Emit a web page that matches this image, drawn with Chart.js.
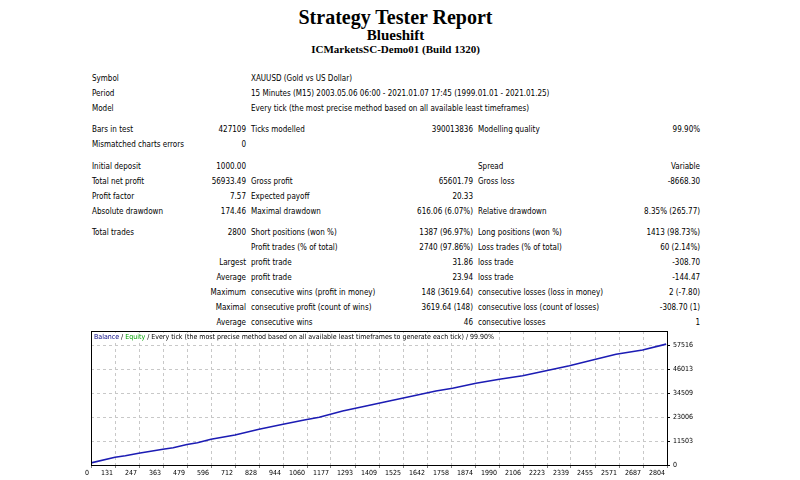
<!DOCTYPE html>
<html>
<head>
<meta charset="utf-8">
<title>Strategy Tester Report</title>
<script src="https://cdn.jsdelivr.net/npm/chart.js@4.4.0/dist/chart.umd.min.js"></script>
<style>
body { margin:0; background:#fff; width:800px; height:480px; position:relative; overflow:hidden; font-family:"DejaVu Sans Condensed","DejaVu Sans",sans-serif; font-stretch:condensed; color:#000; }
.t { position:absolute; left:0; width:791px; text-align:center; font-family:"Liberation Serif",serif; font-weight:bold; white-space:nowrap; line-height:1; }
#rep { position:absolute; left:92px; top:71px; border-collapse:collapse; table-layout:fixed; font-size:8px; width:608px; }
#rep td { padding:0; height:15px; line-height:15px; white-space:nowrap; overflow:visible; }
#rep tr.gap td { height:6px; line-height:6px; }
#rep tr.gap7 td { height:7px; line-height:7px; }
#rep td.r { text-align:right; }
#rep td.p { padding-left:5px; }
#box { position:absolute; left:80px; top:320px; }
#cap { position:absolute; left:94px; top:333px; font-size:7px; background:#fff; white-space:nowrap; line-height:8px; }
</style>
</head>
<body>
<div class="t" style="top:7px;font-size:20px">Strategy Tester Report</div>
<div class="t" style="top:28px;font-size:15px">Blueshift</div>
<div class="t" style="top:44px;font-size:11px">ICMarketsSC-Demo01 (Build 1320)</div>

<table id="rep">
<colgroup><col style="width:93px"><col style="width:61px"><col style="width:154px"><col style="width:73px"><col style="width:157px"><col style="width:70px"></colgroup>
<tr><td>Symbol</td><td></td><td class="p" colspan="4">XAUUSD (Gold vs US Dollar)</td></tr>
<tr><td>Period</td><td></td><td class="p" colspan="4">15 Minutes (M15) 2003.05.06 06:00 - 2021.01.07 17:45 (1999.01.01 - 2021.01.25)</td></tr>
<tr><td>Model</td><td></td><td class="p" colspan="4">Every tick (the most precise method based on all available least timeframes)</td></tr>
<tr class="gap"><td colspan="6"></td></tr>
<tr><td>Bars in test</td><td class="r">427109</td><td class="p">Ticks modelled</td><td class="r">390013836</td><td class="p">Modelling quality</td><td class="r">99.90%</td></tr>
<tr><td>Mismatched charts errors</td><td class="r">0</td><td></td><td></td><td></td><td></td></tr>
<tr class="gap7"><td colspan="6"></td></tr>
<tr><td>Initial deposit</td><td class="r">1000.00</td><td></td><td></td><td class="p">Spread</td><td class="r">Variable</td></tr>
<tr><td>Total net profit</td><td class="r">56933.49</td><td class="p">Gross profit</td><td class="r">65601.79</td><td class="p">Gross loss</td><td class="r">-8668.30</td></tr>
<tr><td>Profit factor</td><td class="r">7.57</td><td class="p">Expected payoff</td><td class="r">20.33</td><td></td><td></td></tr>
<tr><td>Absolute drawdown</td><td class="r">174.46</td><td class="p">Maximal drawdown</td><td class="r">616.06 (6.07%)</td><td class="p">Relative drawdown</td><td class="r">8.35% (265.77)</td></tr>
<tr class="gap"><td colspan="6"></td></tr>
<tr><td>Total trades</td><td class="r">2800</td><td class="p">Short positions (won %)</td><td class="r">1387 (96.97%)</td><td class="p">Long positions (won %)</td><td class="r">1413 (98.73%)</td></tr>
<tr><td></td><td></td><td class="p">Profit trades (% of total)</td><td class="r">2740 (97.86%)</td><td class="p">Loss trades (% of total)</td><td class="r">60 (2.14%)</td></tr>
<tr><td></td><td class="r">Largest</td><td class="p">profit trade</td><td class="r">31.86</td><td class="p">loss trade</td><td class="r">-308.70</td></tr>
<tr><td></td><td class="r">Average</td><td class="p">profit trade</td><td class="r">23.94</td><td class="p">loss trade</td><td class="r">-144.47</td></tr>
<tr><td></td><td class="r">Maximum</td><td class="p">consecutive wins (profit in money)</td><td class="r">148 (3619.64)</td><td class="p">consecutive losses (loss in money)</td><td class="r">2 (-7.80)</td></tr>
<tr><td></td><td class="r">Maximal</td><td class="p">consecutive profit (count of wins)</td><td class="r">3619.64 (148)</td><td class="p">consecutive loss (count of losses)</td><td class="r">-308.70 (1)</td></tr>
<tr><td></td><td class="r">Average</td><td class="p">consecutive wins</td><td class="r">46</td><td class="p">consecutive losses</td><td class="r">1</td></tr>
</table>

<canvas id="box" width="640" height="160"></canvas>
<div id="cap"><span style="color:#000080">Balance</span> / <span style="color:#00a000">Equity</span> / Every tick (the most precise method based on all available least timeframes to generate each tick) / 99.90%</div>

<script>
// axis labels as printed by the tester
const xLabels = ['0', '131', '247', '363', '479', '596', '712', '828', '944', '1060', '1177', '1293', '1409',
    '1525', '1642', '1758', '1874', '1990', '2106', '2223', '2339', '2455', '2571', '2687', '2804'];
const yTicks = [0, 11503, 23006, 34509, 46013, 57516];
const xMax = 2804;
const yMax = 64227;

// balance curve (trade number, balance)
const trades = [0, 117, 167, 232, 350, 400, 467, 518, 584, 701, 818, 935, 1038, 1111, 1225, 1339, 1452, 1566, 1679,
    1760, 1874, 1988, 2101, 2215, 2329, 2442, 2556, 2685, 2800];
const balance = [1000, 3690, 4460, 5610, 7525, 8300, 9800, 10700, 12320, 14380, 17110, 19510, 21570, 22860, 25880,
    28280, 30675, 33070, 35470, 36760, 39160, 41075, 42800, 45200, 47600, 50330, 53060, 55120, 57933];

const fonte = { family: "'DejaVu Sans Condensed', 'DejaVu Sans', sans-serif", size: 7 };

const moldura = {
    id: 'moldura',
    afterDraw(chart) {
        const a = chart.chartArea;
        const ctx = chart.ctx;
        ctx.save();
        ctx.strokeStyle = '#000';
        ctx.lineWidth = 1;
        ctx.strokeRect(Math.round(a.left) + 0.5, Math.round(a.top) + 0.5, Math.round(a.right - a.left), Math.round(a.bottom - a.top));
        ctx.restore();
    }
};

const pontos = [];
for (let i = 0; i < trades.length; i++) {
    pontos.push({ x: trades[i], y: balance[i] });
}

new Chart(document.getElementById('box'), {
    type: 'line',
    data: {
        datasets: [{
            label: 'Balance',
            data: pontos,
            borderColor: '#1c1cb4',
            borderWidth: 1.6,
            pointRadius: 0,
            tension: 0,
            fill: false
        }]
    },
    options: {
        responsive: false,
        animation: false,
        devicePixelRatio: 1,
        layout: { padding: { left: 11, top: 11, right: 0, bottom: 0 } },
        plugins: { legend: { display: false }, tooltip: { enabled: false } },
        scales: {
            x: {
                type: 'linear',
                min: 0,
                max: xMax,
                afterBuildTicks: (s) => { s.ticks = xLabels.map((l, i) => ({ value: xMax * i / (xLabels.length - 1) })); },
                afterFit: (s) => { s.height = 15; },
                ticks: {
                    autoSkip: false, maxRotation: 0, align: 'end', labelOffset: -2, padding: 1,
                    font: fonte, color: '#000',
                    callback: (v, i) => xLabels[i]
                },
                grid: { color: '#c8c8c8', tickLength: 3, tickColor: '#808080' },
                border: { color: '#000', dash: [3, 3] }
            },
            y: {
                position: 'right',
                min: 0,
                max: yMax,
                afterBuildTicks: (s) => { s.ticks = yTicks.map(v => ({ value: v })); },
                afterFit: (s) => { s.width = 53; },
                ticks: { font: fonte, color: '#000', padding: 3, callback: (v) => String(v) },
                grid: { color: '#c8c8c8', tickLength: 3, tickColor: '#000' },
                border: { color: '#000', dash: [3, 3] }
            }
        }
    },
    plugins: [moldura]
});
</script>
</body>
</html>
